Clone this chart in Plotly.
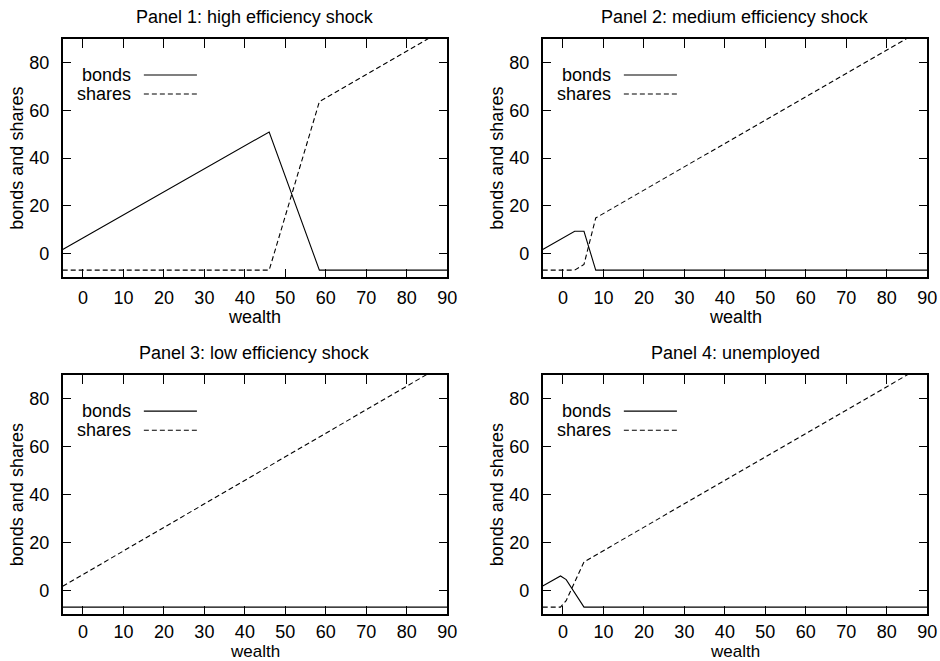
import plotly.graph_objects as go

# policy functions: wealth grid points and holdings
titles = ["Panel 1: high efficiency shock", "Panel 2: medium efficiency shock",
          "Panel 3: low efficiency shock", "Panel 4: unemployed"]

wealth_1 = [-5, 46, 58.4, 90]
bonds_1 = [1.7, 51, -7, -7]
shares_1 = [-7, -7, 63.7, 94.8]

wealth_2 = [-5, 2.9, 5.2, 8.1, 90]
bonds_2 = [1.7, 9.3, 9.3, -7, -7]
shares_2 = [-7, -7, -4.6, 14.9, 95.2]

wealth_3 = [-5, 90]
bonds_3 = [-7, -7]
shares_3 = [1.7, 95.2]

wealth_4 = [-5, -0.6, 0.8, 5.2, 90]
bonds_4 = [1.8, 6.0, 4.5, -7, -7]
shares_4 = [-7, -7, -4.3, 11.9, 94.9]

x_ticks = [0, 10, 20, 30, 40, 50, 60, 70, 80, 90]
y_ticks = [0, 20, 40, 60, 80]

panels = [(wealth_1, bonds_1, shares_1), (wealth_2, bonds_2, shares_2),
          (wealth_3, bonds_3, shares_3), (wealth_4, bonds_4, shares_4)]

W, H = 940, 661
FONT = "Liberation Sans, Arial, sans-serif"
FS = 18

# pixel boxes of each plot area (left, right, top, bottom)
boxes = [(62.7, 447.3, 39, 277.3), (542.7, 927.3, 39, 277.3),
         (62.7, 447.3, 375, 614.3), (542.7, 927.3, 375, 614.3)]


def px(x):
    return x / W


def py(y):
    return 1 - y / H


fig = go.Figure()
layout = dict(width=W, height=H, margin=dict(l=0, r=0, t=0, b=0),
              plot_bgcolor="white", paper_bgcolor="white", showlegend=False,
              font=dict(family=FONT, size=FS, color="black"))
annotations = []
shapes = []

for i, (w, b, s) in enumerate(panels):
    n = "" if i == 0 else str(i + 1)
    xa, ya = "x" + n, "y" + n
    l, r, t, bt = boxes[i]
    lower = i >= 2
    fig.add_trace(go.Scatter(x=w, y=b, mode="lines", xaxis=xa, yaxis=ya, name="bonds",
                             line=dict(color="black", width=1.1)))
    fig.add_trace(go.Scatter(x=w, y=s, mode="lines", xaxis=xa, yaxis=ya, name="shares",
                             line=dict(color="black", width=1.1, dash="5px,3px")))
    axis_common = dict(showgrid=False, zeroline=False, showline=True, linecolor="black",
                       linewidth=1.5, mirror="allticks", ticks="inside", ticklen=9,
                       tickwidth=1.2, tickcolor="black", automargin=False,
                       tickfont=dict(family=FONT, size=FS, color="black"))
    layout["xaxis" + n] = dict(axis_common, domain=[px(l), px(r)], anchor=ya,
                               range=[-5, 90], tickvals=x_ticks,
                               ticklabelstandoff=0 if lower else 3)
    layout["yaxis" + n] = dict(axis_common, domain=[py(bt), py(t)], anchor=xa,
                               range=[-10, 90], tickvals=y_ticks, ticklabelstandoff=8,
                               title=dict(text="bonds and shares", standoff=1,
                                          font=dict(family=FONT, size=FS)))
    annotations.append(dict(text=titles[i], xref="paper", yref="paper",
                            x=px((l + r) / 2), y=py(t - 22), showarrow=False,
                            xanchor="center", yanchor="middle",
                            font=dict(family=FONT, size=FS)))
    # the lower row's axis label sits right at the page's bottom edge
    wealth_y = 651 if lower else bt + 40
    annotations.append(dict(text="wealth", xref="paper", yref="paper",
                            x=px((l + r) / 2), y=py(wealth_y), showarrow=False,
                            xanchor="center", yanchor="middle",
                            font=dict(family=FONT, size=17 if lower else FS)))
    # gnuplot-style key: label on the left, line sample on the right
    for label, yy, dash in [("bonds", 0.849, "solid"), ("shares", 0.769, "5px,3px")]:
        annotations.append(dict(text=label, xref=xa + " domain", yref=ya + " domain",
                                x=0.182, y=yy, xanchor="right", yanchor="middle",
                                showarrow=False, font=dict(family=FONT, size=FS)))
        shapes.append(dict(type="line", xref=xa + " domain", yref=ya + " domain",
                           x0=0.211, x1=0.349, y0=yy, y1=yy,
                           line=dict(color="black", width=1.1, dash=dash)))

layout["annotations"] = annotations
layout["shapes"] = shapes
fig.update_layout(**layout)

# drop the default body margin so the 940x661 figure fills the window exactly
fig.write_html("out.html", config={"displayModeBar": False},
               post_script="document.body.style.margin = '0';")
